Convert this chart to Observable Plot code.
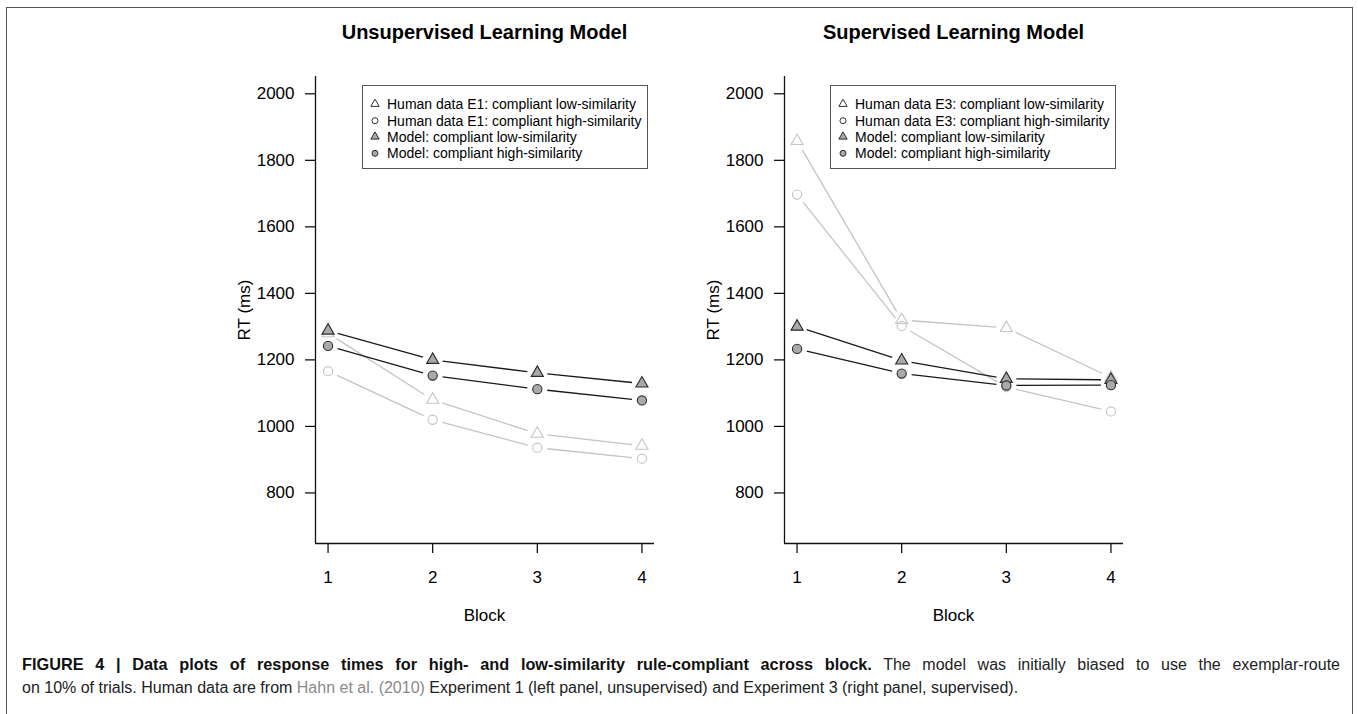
<!DOCTYPE html>
<html>
<head>
<meta charset="utf-8">
<script src="https://cdn.jsdelivr.net/npm/d3@7"></script>
<script src="https://cdn.jsdelivr.net/npm/@observablehq/plot@0.6"></script>
<style>
  body { margin: 0; background: #fff; font-family: "Liberation Sans", Arial, Helvetica, sans-serif; }
  #fig { position: relative; width: 1358px; height: 714px; overflow: hidden; background: #fff; }
  #border { position: absolute; left: 6px; top: 7px; width: 1347px; height: 760px; box-sizing: border-box;
            border: 1.5px solid #555; border-bottom: none; }
  .panel { position: absolute; top: 0; }
  .title { position: absolute; top: 22px; width: 339px; text-align: center; font-weight: bold;
           font-size: 20px; line-height: 20px; color: #000; white-space: nowrap; }
  .xlab { position: absolute; top: 607px; width: 339px; text-align: center; font-size: 17px; line-height: 17px; }
  .ylab { position: absolute; width: 200px; height: 20px; line-height: 20px; text-align: center; font-size: 17px;
          transform: rotate(-90deg); }
  .legend { position: absolute; top: 85px; width: 286px; height: 84px; box-sizing: border-box;
            border: 1px solid #555; background: #fff; }
  .capline { position: absolute; left: 22px; height: 24px; line-height: 24px; font-size: 16px;
             color: #222; white-space: nowrap; }
  .capline b { color: #111; font-size: 16.3px; }
  .capline .ref { color: #8a8a8a; }
</style>
</head>
<body>
<div id="fig">
  <div id="border"></div>
</div>
<script>
// ---------- data ----------
const blocks = [1, 2, 3, 4];
const yTicks = [800, 1000, 1200, 1400, 1600, 1800, 2000];

// Left panel: Unsupervised learning model vs Human data E1
const leftHumanLow  = [1280, 1080, 978, 942];
const leftHumanHigh = [1166, 1020, 936, 903];
const leftModelLow  = [1288, 1200, 1161, 1129];
const leftModelHigh = [1242, 1153, 1112, 1078];

// Right panel: Supervised learning model vs Human data E3
const rightHumanLow  = [1858, 1320, 1296, 1147];
const rightHumanHigh = [1697, 1302, 1118, 1045];
const rightModelLow  = [1300, 1198, 1143, 1140];
const rightModelHigh = [1233, 1159, 1123, 1124];

const panelTitles = ["Unsupervised Learning Model", "Supervised Learning Model"];
const leftLegend = [
  "Human data E1: compliant low-similarity",
  "Human data E1: compliant high-similarity",
  "Model: compliant low-similarity",
  "Model: compliant high-similarity"
];
const rightLegend = [
  "Human data E3: compliant low-similarity",
  "Human data E3: compliant high-similarity",
  "Model: compliant low-similarity",
  "Model: compliant high-similarity"
];
const xLabel = "Block";
const yLabel = "RT (ms)";

// ---------- layout ----------
const X_DOMAIN = [0.88, 4.12];
const Y_DOMAIN = [648, 2052];
const W = 470, H = 643, ML = 110, MR = 21, MT = 76, MB = 100;
const plotW = W - ML - MR, plotH = H - MT - MB;
const FONT = '"Liberation Sans", Arial, Helvetica, sans-serif';

const styles = {
  humanLow:  {symbol: "triangle", fill: "none", stroke: "#c4c4c4", line: "#c4c4c4"},
  humanHigh: {symbol: "circle",   fill: "none", stroke: "#c4c4c4", line: "#c4c4c4"},
  modelLow:  {symbol: "triangle", fill: "#a9a9a9", stroke: "#2a2a2a", line: "#1a1a1a"},
  modelHigh: {symbol: "circle",   fill: "#a9a9a9", stroke: "#2a2a2a", line: "#1a1a1a"}
};

const xs = d3.scaleLinear(X_DOMAIN, [0, plotW]);
const ys = d3.scaleLinear(Y_DOMAIN, [plotH, 0]);

// R type="b": segments between points with a gap around each point
function gapped(values, gap) {
  const segs = [];
  for (let i = 0; i < values.length - 1; i++) {
    const ax = xs(blocks[i]), ay = ys(values[i]);
    const bx = xs(blocks[i + 1]), by = ys(values[i + 1]);
    const dx = bx - ax, dy = by - ay, L = Math.hypot(dx, dy);
    if (L <= 2 * gap) continue;
    const ux = dx / L, uy = dy / L;
    segs.push({
      x1: xs.invert(ax + ux * gap), y1: ys.invert(ay + uy * gap),
      x2: xs.invert(bx - ux * gap), y2: ys.invert(by - uy * gap)
    });
  }
  return segs;
}

function seriesMarks(values, st) {
  const pts = blocks.map((b, i) => ({block: b, rt: values[i]}));
  const r = st.symbol === "triangle" ? 4.5 : 4.6;
  return [
    Plot.link(gapped(values, 10), {x1: "x1", y1: "y1", x2: "x2", y2: "y2",
      stroke: st.line, strokeWidth: 1.3}),
    Plot.dot(pts, {x: "block", y: "rt", symbol: st.symbol, r, fill: st.fill,
      stroke: st.stroke, strokeWidth: 1.1})
  ];
}

function makePanel(series) {
  return Plot.plot({
    width: W, height: H,
    marginLeft: ML, marginRight: MR, marginTop: MT, marginBottom: MB,
    style: {fontFamily: FONT, fontSize: "17px", color: "#000", background: "transparent", overflow: "visible"},
    x: {domain: X_DOMAIN},
    y: {domain: Y_DOMAIN},
    marks: [
      Plot.axisX({ticks: blocks, tickSize: 10, tickPadding: 17, fontSize: 17, label: null,
        tickFormat: d => String(d), strokeWidth: 1.2}),
      Plot.axisY({ticks: yTicks, tickSize: 10, tickPadding: 11, fontSize: 17, label: null,
        tickFormat: d => String(d), strokeWidth: 1.2}),
      Plot.ruleX([X_DOMAIN[0]], {stroke: "#111", strokeWidth: 1.3}),
      Plot.ruleY([Y_DOMAIN[0]], {stroke: "#111", strokeWidth: 1.3}),
      ...seriesMarks(series[0], styles.humanLow),
      ...seriesMarks(series[1], styles.humanHigh),
      ...seriesMarks(series[2], styles.modelLow),
      ...seriesMarks(series[3], styles.modelHigh)
    ]
  });
}

function makeLegend(labels) {
  const w = 286, h = 84;
  const svg = d3.create("svg").attr("width", w - 2).attr("height", h - 2)
    .style("position", "absolute").style("left", "0").style("top", "0");
  const keys = ["humanLow", "humanHigh", "modelLow", "modelHigh"];
  const rows = [18, 34.7, 50.7, 67.3];
  labels.forEach((lab, i) => {
    const st = styles[keys[i]];
    const human = i < 2;
    const sym = d3.symbol(st.symbol === "triangle" ? d3.symbolTriangle : d3.symbolCircle,
      st.symbol === "triangle" ? 30 : 28);
    svg.append("path").attr("d", sym()).attr("transform", `translate(12,${rows[i]})`)
      .attr("fill", human ? "none" : st.fill).attr("stroke", human ? "#333" : "#2a2a2a").attr("stroke-width", 1);
    svg.append("text").attr("x", 24).attr("y", rows[i]).attr("dy", "0.35em")
      .attr("font-family", FONT).attr("font-size", 14).attr("fill", "#000").text(lab);
  });
  return svg.node();
}

const fig = document.getElementById("fig");
const panels = [
  {left: 205, series: [leftHumanLow, leftHumanHigh, leftModelLow, leftModelHigh], legend: leftLegend, legendLeft: 362},
  {left: 674, series: [rightHumanLow, rightHumanHigh, rightModelLow, rightModelHigh], legend: rightLegend, legendLeft: 830}
];
panels.forEach((p, k) => {
  const div = document.createElement("div");
  div.className = "panel";
  div.style.left = p.left + "px";
  div.appendChild(makePanel(p.series));
  fig.appendChild(div);

  const t = document.createElement("div");
  t.className = "title";
  t.style.left = (p.left + ML) + "px";
  t.textContent = panelTitles[k];
  fig.appendChild(t);

  const xl = document.createElement("div");
  xl.className = "xlab";
  xl.style.left = (p.left + ML) + "px";
  xl.textContent = xLabel;
  fig.appendChild(xl);

  const yl = document.createElement("div");
  yl.className = "ylab";
  yl.style.left = (p.left + 40 - 100) + "px";
  yl.style.top = (MT + plotH / 2 - 10) + "px";
  yl.textContent = yLabel;
  fig.appendChild(yl);

  const lg = document.createElement("div");
  lg.className = "legend";
  lg.style.left = p.legendLeft + "px";
  lg.appendChild(makeLegend(p.legend));
  fig.appendChild(lg);
});

// caption (two lines, as in the original: line 1 justified, line 2 left-aligned)
const line1 = document.createElement("div");
line1.className = "capline";
line1.style.top = "652px";
line1.innerHTML = '<b>FIGURE 4 | Data plots of response times for high- and low-similarity rule-compliant across block.</b> ' +
  'The model was initially biased to use the exemplar-route';
fig.appendChild(line1);
const line2 = document.createElement("div");
line2.className = "capline";
line2.style.top = "676px";
line2.innerHTML = 'on 10% of trials. Human data are from <span class="ref">Hahn et al. (2010)</span> ' +
  'Experiment 1 (left panel, unsupervised) and Experiment 3 (right panel, supervised).';
fig.appendChild(line2);

(function justifyLine1() {
  const w = line1.getBoundingClientRect().width;
  const spaces = (line1.textContent.match(/ /g) || []).length;
  line1.style.wordSpacing = ((1318 - w) / spaces).toFixed(3) + "px";
})();
</script>
</body>
</html>
